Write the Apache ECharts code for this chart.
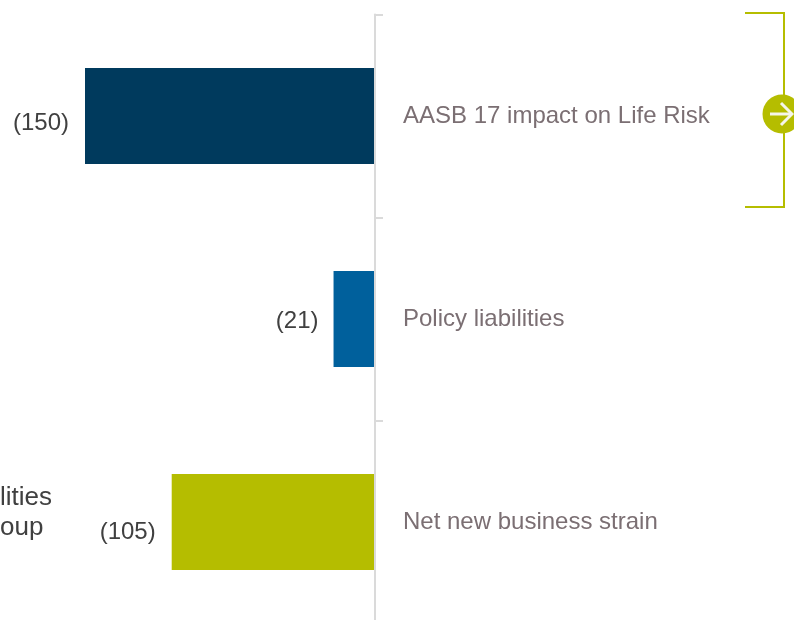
<!DOCTYPE html>
<html>
<head>
<meta charset="utf-8">
<style>html,body{margin:0;padding:0;background:#fff;overflow:hidden;width:794px;height:620px}#c{width:794px;height:640px}</style>
<script src="https://cdn.jsdelivr.net/npm/echarts@6/dist/echarts.min.js"></script>
</head>
<body>
<div id="c"></div>
<script>
const categories = ['AASB 17 impact on Life Risk', 'Policy liabilities', 'Net new business strain'];
const values = [-150, -21, -105];
const valueLabels = ['(150)', '(21)', '(105)'];
const barColors = ['#003A5D', '#00609C', '#B5BD00'];
const labelOffsets = [[0, 7.5], [1, 2], [0, 10]];
const clippedNote = ['lities', 'oup'];

const chart = echarts.init(document.getElementById('c'), null, {renderer: 'canvas'});
const lime = '#B5BD00';
const font = '"Liberation Sans", Arial, sans-serif';
chart.setOption({
  animation: false,
  backgroundColor: '#fff',
  textStyle: {fontFamily: font},
  grid: {left: 85, top: 14.5, width: 289, height: 609, containLabel: false},
  xAxis: {type: 'value', min: -150, max: 0, show: false},
  yAxis: {
    type: 'category', data: categories, inverse: true, position: 'right', offset: 1,
    axisLine: {show: true, onZero: false, lineStyle: {color: '#DADADA', width: 2}},
    axisTick: {show: true, length: 8, lineStyle: {color: '#DADADA', width: 2}},
    axisLabel: {margin: 28, color: '#7B6F73', fontSize: 24, fontFamily: font, padding: [7, 0, 0, 0]},
    splitLine: {show: false}
  },
  series: [{
    type: 'bar', barWidth: 96, silent: true,
    data: values.map((v, i) => ({
      value: v,
      itemStyle: {color: barColors[i]},
      label: {show: true, position: 'left', distance: 16, offset: labelOffsets[i],
        formatter: valueLabels[i], color: '#404040', fontSize: 24, fontFamily: font}
    }))
  }],
  graphic: [
    {type: 'polyline', shape: {points: [[745, 13], [784, 13], [784, 207], [745, 207]]},
      style: {stroke: lime, lineWidth: 2, fill: null}},
    {type: 'circle', shape: {cx: 782, cy: 114, r: 19.5}, style: {fill: lime}},
    {type: 'polyline', shape: {points: [[770, 114], [792, 114]]}, style: {stroke: '#F5F5EA', lineWidth: 3, fill: null}},
    {type: 'polyline', shape: {points: [[781, 103], [792, 114], [781, 125]]}, style: {stroke: '#F5F5EA', lineWidth: 3, fill: null}},
    {type: 'text', x: 0, y: 498, style: {text: clippedNote[0], fill: '#404040', fontSize: 26, fontFamily: font, verticalAlign: 'middle'}},
    {type: 'text', x: 0, y: 528, style: {text: clippedNote[1], fill: '#404040', fontSize: 26, fontFamily: font, verticalAlign: 'middle'}}
  ]
});
</script>
</body>
</html>
